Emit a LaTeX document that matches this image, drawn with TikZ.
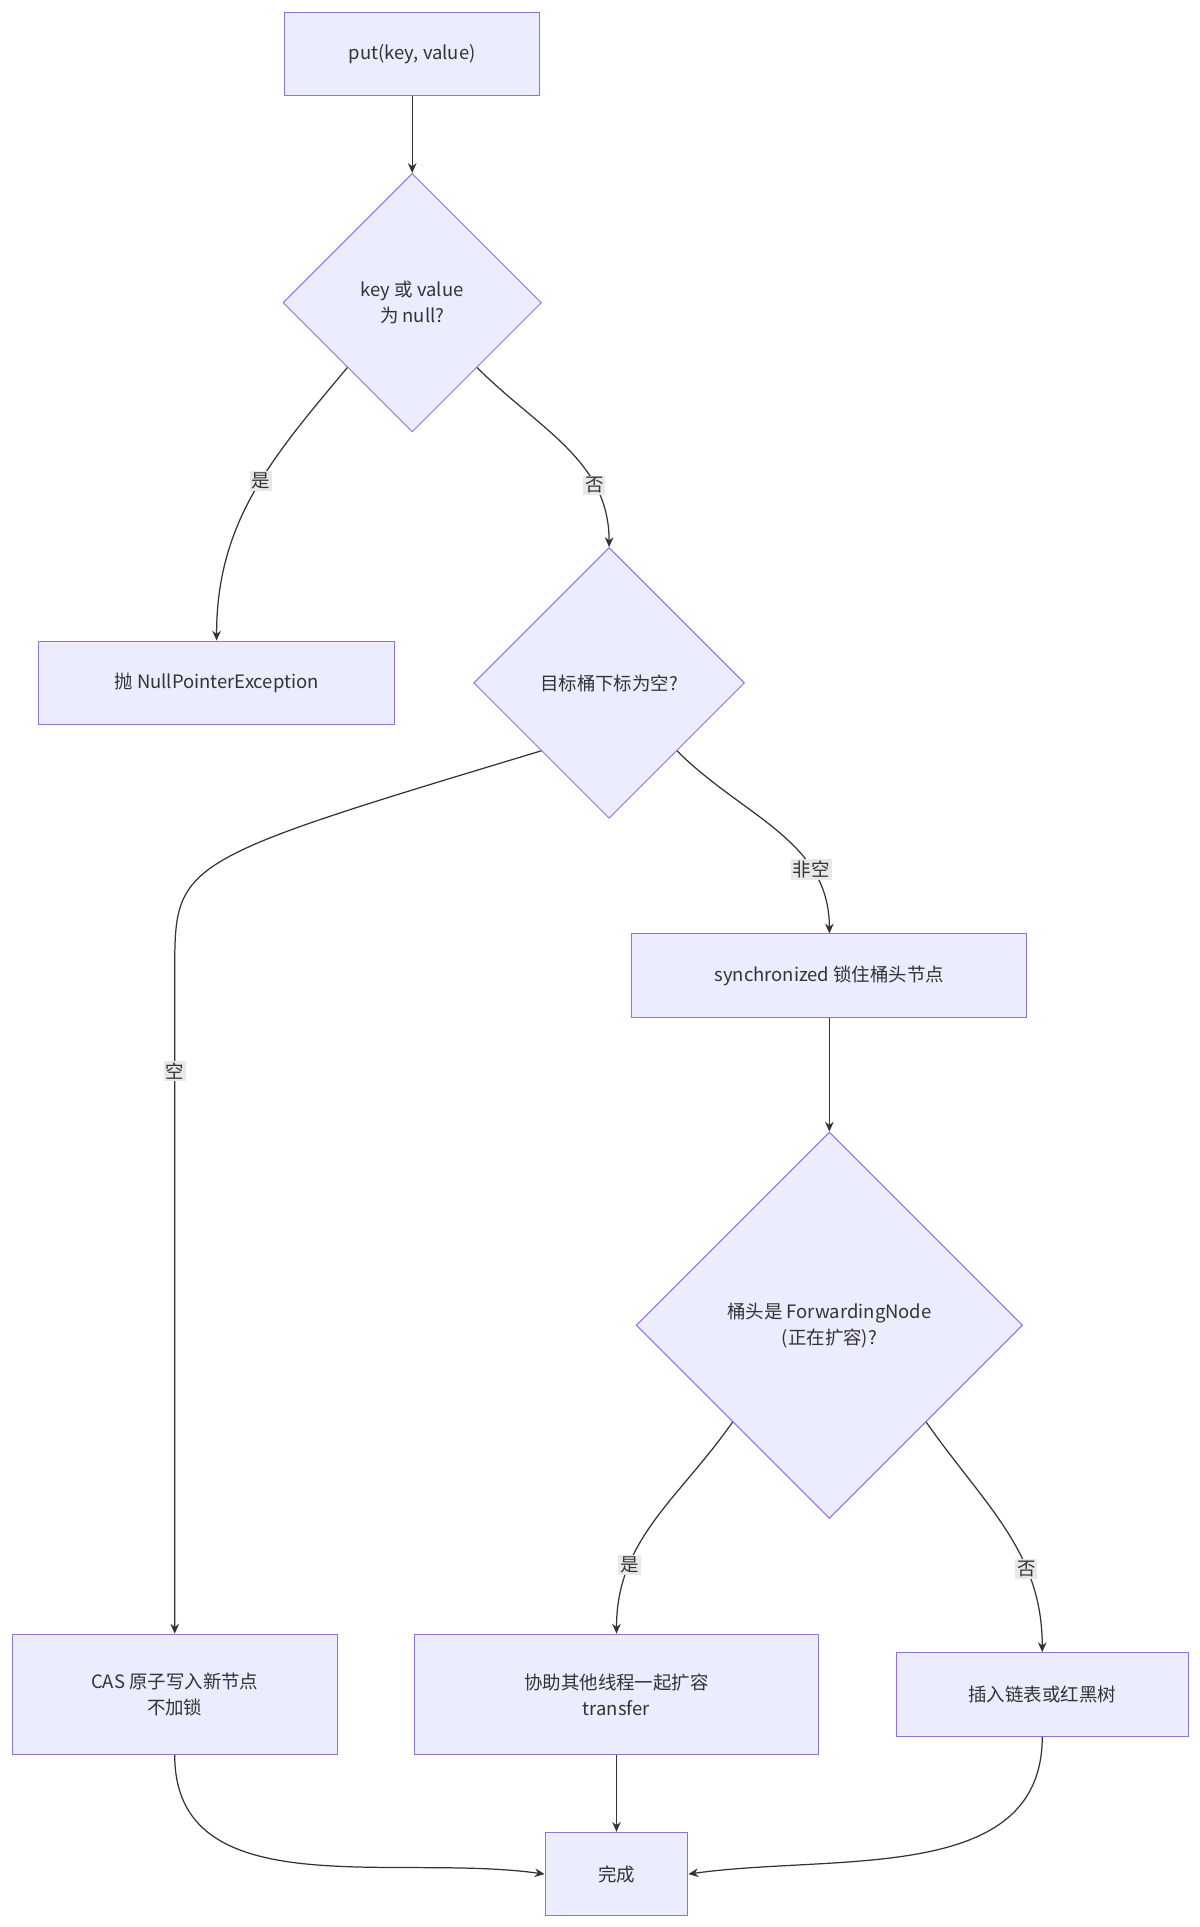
\documentclass[tikz,border=0pt]{standalone}
\usepackage{fontspec}
\setmainfont{Liberation Sans}
\newfontfamily\cjk{Noto Sans CJK SC}
\usetikzlibrary{shapes.geometric, arrows.meta, positioning}
\definecolor{boxfill}{HTML}{ECECFF}
\definecolor{boxline}{HTML}{9370DB}
\definecolor{edgecol}{HTML}{333333}
\definecolor{lblfill}{HTML}{E8E8E8}
\tikzset{
  box/.style={rectangle,draw=boxline,fill=boxfill,line width=0.8pt,align=center,inner sep=0pt,minimum height=68pt},
  dec/.style={diamond,draw=boxline,fill=boxfill,line width=0.8pt,align=center,inner sep=0pt},
  flow/.style={-{Stealth[length=8pt,width=7pt]},draw=edgecol,line width=1pt},
  lbl/.style={fill=lblfill,inner sep=1.5pt,text=edgecol}
}
\begin{document}
\begin{tikzpicture}[x=1pt,y=-1pt,font=\cjk\fontsize{15}{21}\selectfont,text=edgecol]
    \useasboundingbox (0,0) rectangle (975,1566);
    % Nodi
    \node[box,minimum width=207pt] (put) at (335,44) {put(key, value)};
    \node[dec,minimum width=210pt,minimum height=210pt] (nullq) at (335,246) {key 或 value\\为 null?};
    \node[box,minimum width=289pt] (npe) at (176,555) {抛 NullPointerException};
    \node[dec,minimum width=220pt,minimum height=220pt] (bucketq) at (495,555) {目标桶下标为空?};
    \node[box,minimum width=321pt] (sync) at (674,793) {synchronized 锁住桶头节点};
    \node[dec,minimum width=314pt,minimum height=314pt] (fwdq) at (674,1077) {桶头是 ForwardingNode\\(正在扩容)?};
    \node[box,minimum width=264pt,minimum height=98pt] (cas) at (142,1377) {CAS 原子写入新节点\\不加锁};
    \node[box,minimum width=328pt,minimum height=98pt] (help) at (501,1377) {协助其他线程一起扩容\\transfer};
    \node[box,minimum width=237pt] (insert) at (847,1377) {插入链表或红黑树};
    \node[box,minimum width=116pt] (done) at (501,1523) {完成};

    % Connessioni
    \draw[flow] (put) -- (nullq);
    \draw[flow] (nullq.south west) to[out=-130,in=90] node[lbl,pos=0.45]{是} (npe.north);
    \draw[flow] (nullq.south east) to[out=-45,in=90] node[lbl,pos=0.72]{否} (bucketq.north);
    \draw[flow] (bucketq.south west) .. controls (142,700) .. (142,790) -- node[lbl,pos=0.15]{空} (cas.north);
    \draw[flow] (bucketq.south east) to[out=-45,in=90] node[lbl,pos=0.72]{非空} (sync.north);
    \draw[flow] (sync) -- (fwdq);
    \draw[flow] (fwdq.south west) to[out=-125,in=90] node[lbl,pos=0.72]{是} (help.north);
    \draw[flow] (fwdq.south east) to[out=-55,in=90] node[lbl,pos=0.68]{否} (insert.north);
    \draw[flow] (cas.south) to[out=-90,in=172] (done.west);
    \draw[flow] (help) -- (done);
    \draw[flow] (insert.south) to[out=-90,in=8] (done.east);
\end{tikzpicture}
\end{document}
